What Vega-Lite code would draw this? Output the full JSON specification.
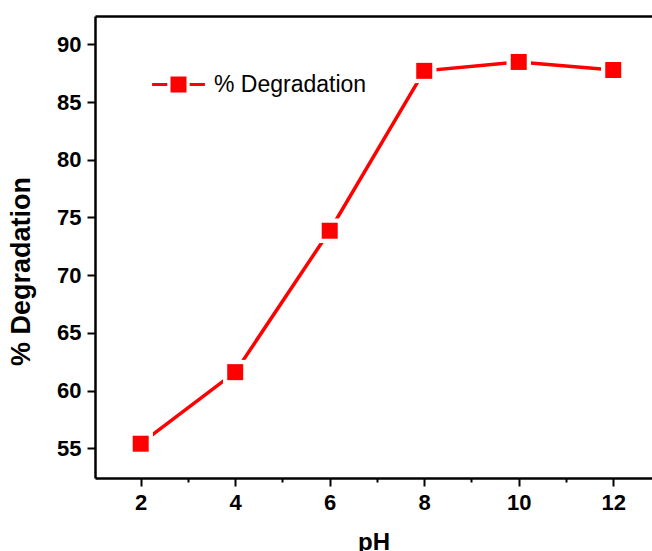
{
  "$schema": "https://vega.github.io/schema/vega-lite/v6.json",
  "width": 557,
  "height": 462,
  "autosize": "none",
  "padding": {"left": 95, "top": 16, "right": 0, "bottom": 73},
  "background": "white",
  "config": {
    "view": {"stroke": null},
    "font": "Liberation Sans"
  },
  "data": {
    "values": [
      {"pH": 2, "deg": 55.4},
      {"pH": 4, "deg": 61.6},
      {"pH": 6, "deg": 73.85},
      {"pH": 8, "deg": 87.7},
      {"pH": 10, "deg": 88.47},
      {"pH": 12, "deg": 87.77}
    ]
  },
  "resolve": {"axis": {"x": "independent"}},
  "layer": [
    {
      "mark": {"type": "line", "color": "#FF0000", "strokeWidth": 3.5},
      "encoding": {
        "x": {
          "field": "pH", "type": "quantitative",
          "scale": {"domain": [1.033, 12.82], "nice": false, "zero": false},
          "axis": {"orient": "top", "title": null, "labels": false, "ticks": false, "grid": false, "domainColor": "black", "domainWidth": 2.5}
        },
        "y": {"field": "deg", "type": "quantitative"}
      }
    },
    {
      "encoding": {
        "x": {
          "field": "pH", "type": "quantitative",
          "scale": {"domain": [1.033, 12.82], "nice": false, "zero": false},
          "axis": {
            "orient": "bottom",
            "title": "pH",
            "values": [2, 3, 4, 5, 6, 7, 8, 9, 10, 11, 12],
            "labelExpr": "datum.value % 2 == 0 ? datum.label : ''",
            "tickSize": {"condition": {"test": "datum.value % 2 == 0", "value": 8}, "value": 4},
            "tickWidth": 2, "tickColor": "black",
            "domainColor": "black", "domainWidth": 2.5,
            "grid": false,
            "labelFont": "Liberation Sans", "labelFontSize": 22, "labelFontWeight": "bold", "labelColor": "black",
            "labelPadding": 6,
            "titleFont": "Liberation Sans", "titleFontSize": 24, "titleFontWeight": "bold", "titleColor": "black",
            "titleBaseline": "top", "titleY": 52
          }
        },
        "y": {
          "field": "deg", "type": "quantitative",
          "scale": {"domain": [52.43, 92.45], "nice": false, "zero": false},
          "axis": {
            "title": "% Degradation",
            "values": [55, 57.5, 60, 62.5, 65, 67.5, 70, 72.5, 75, 77.5, 80, 82.5, 85, 87.5, 90],
            "labelExpr": "datum.value % 5 == 0 ? datum.label : ''",
            "tickSize": {"condition": {"test": "datum.value % 5 == 0", "value": 8}, "value": 4},
            "tickWidth": 2, "tickColor": "black",
            "domainColor": "black", "domainWidth": 2.5,
            "grid": false,
            "labelFont": "Liberation Sans", "labelFontSize": 22, "labelFontWeight": "bold", "labelColor": "black",
            "labelPadding": 6,
            "titleFont": "Liberation Sans", "titleFontSize": 27, "titleFontWeight": "bold", "titleColor": "black",
            "titleX": -60, "titleY": 255
          }
        }
      },
      "layer": [
        {"mark": {"type": "point", "shape": "square", "filled": true, "color": "white", "opacity": 1, "size": 600}},
        {
          "mark": {"type": "point", "shape": "square", "filled": true, "opacity": 1, "size": 256},
          "encoding": {
            "color": {
              "datum": "% Degradation",
              "type": "nominal",
              "scale": {"range": ["#FF0000"]},
              "legend": {
                "title": null,
                "orient": "none",
                "legendX": 72,
                "legendY": 57,
                "symbolType": "M-3.3,-0.2H-1.4V0.2H-3.3Z M-1,-1H1V1H-1Z M1.4,-0.2H3.3V0.2H1.4Z",
                "symbolSize": 256,
                "symbolFillColor": "#FF0000",
                "symbolStrokeWidth": 0,
                "symbolOffset": 0,
                "labelFont": "Liberation Sans",
                "labelFontSize": 23,
                "labelColor": "black",
                "labelOffset": 24
              }
            }
          }
        }
      ]
    }
  ]
}
